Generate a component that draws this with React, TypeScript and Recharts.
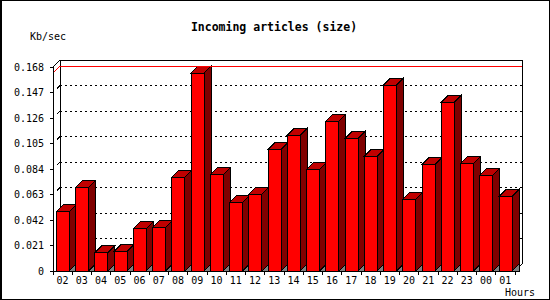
import React from 'react';
import { BarChart, Bar, XAxis, YAxis, CartesianGrid, ReferenceLine } from 'recharts';

// hourly traffic, oldest hour first
const hours = ['02', '03', '04', '05', '06', '07', '08', '09', '10', '11', '12', '13',
  '14', '15', '16', '17', '18', '19', '20', '21', '22', '23', '00', '01'];
const kbPerSec = [0.0489, 0.0688, 0.0150, 0.0159, 0.0349, 0.0357, 0.0771, 0.1630, 0.0795, 0.0564, 0.0630, 0.1002,
  0.1118, 0.0837, 0.1234, 0.1093, 0.0944, 0.1531, 0.0589, 0.0878, 0.1391, 0.0886, 0.0787, 0.0613];
const yTicks = [0, 0.021, 0.042, 0.063, 0.084, 0.105, 0.126, 0.147, 0.168];

const W = 550;
const H = 300;
const LEFT = 53;
const RIGHT = 35;
const TOP = 67;
const BOTTOM = 29;
const D = 7; // 3d depth in px
const BW = (W - LEFT - RIGHT) / hours.length;
const FONT = '"DejaVu Sans Mono", monospace';

const data = hours.map((h, i) => ({ hour: h, value: kbPerSec[i] }));
const maxValue = Math.max(...kbPerSec);

const fmt = (v: number) => (v === 0 ? '0' : v.toFixed(3));

const Bar3D = (props: any) => {
  const { x, y, width, height } = props;
  if (height == null || width == null) return null;
  const r = x + width;
  const b = y + height;
  return (
    <g stroke="#000" strokeWidth={1}>
      <polygon points={`${r},${b} ${r + D},${b - D} ${r + D},${b}`} fill="#808080" />
      <polygon points={`${x},${y} ${x + D},${y - D} ${r + D},${y - D} ${r},${y}`} fill="#c00000" />
      <polygon points={`${r},${y} ${r + D},${y - D} ${r + D},${b - D} ${r},${b}`} fill="#800000" />
      <rect x={x} y={y} width={width} height={height} fill="#ff0000" />
    </g>
  );
};

const HourTick = (props: any) => {
  const { x, y, payload, index } = props;
  return (
    <g>
      <line x1={x - BW / 2} x2={x - BW / 2} y1={y} y2={y + 4} stroke="#000" />
      {index === hours.length - 1 && (
        <line x1={x + BW / 2} x2={x + BW / 2} y1={y} y2={y + 4} stroke="#000" />
      )}
      <text x={x} y={y + 13} textAnchor="middle" fontSize={10} fontFamily={FONT} fill="#000">
        {payload.value}
      </text>
    </g>
  );
};

// grid lines live on the back wall, shifted by the depth
const backLine = (p: any) => {
  const { x1, y1, x2, key } = p;
  if (Math.abs(y1 - TOP) < 1) {
    return (
      <g key={key} stroke="#000">
        <line x1={x1} y1={y1} x2={x1 + D} y2={y1 - D} />
        <line x1={x1 + D} y1={y1 - D} x2={x2 + D} y2={y1 - D} />
      </g>
    );
  }
  if (Math.abs(y1 - (H - BOTTOM)) < 1) {
    return (
      <g key={key} stroke="#000">
        <line x1={x2} y1={y1} x2={x2 + D} y2={y1 - D} />
      </g>
    );
  }
  return (
    <g key={key} stroke="#000">
      <line x1={x1 + 4} y1={y1 - 4} x2={x1 + D} y2={y1 - D} />
      <line x1={x1 + D} y1={y1 - D} x2={x2 + D} y2={y1 - D} strokeDasharray="2 3" />
    </g>
  );
};

const backEdge = (p: any) => {
  const { x1, y1, y2, key } = p;
  return <line key={key} x1={x1 + D} y1={y1 - D} x2={x1 + D} y2={y2 - D} stroke="#000" />;
};

const MaxLine = (p: any) => {
  const { x1, y1, x2 } = p;
  return (
    <polyline
      points={`${x1},${y1} ${x1 + D},${y1 - D} ${x2 + D},${y1 - D}`}
      fill="none"
      stroke="#ff0000"
    />
  );
};

export default function App() {
  return (
    <div
      style={{
        position: 'absolute',
        left: 0,
        top: 0,
        width: W,
        height: H,
        background: '#fff',
        shapeRendering: 'crispEdges',
      } as React.CSSProperties}
    >
      <BarChart
        width={W}
        height={H}
        data={data}
        margin={{ top: TOP, right: RIGHT, left: 0, bottom: 0 }}
        barCategoryGap="17%"
      >
        <CartesianGrid
          horizontal={backLine}
          vertical={backEdge}
          verticalPoints={[LEFT, W - RIGHT]}
        />
        <XAxis
          dataKey="hour"
          interval={0}
          height={BOTTOM}
          tickLine={false}
          tickSize={0}
          tickMargin={0}
          axisLine={{ stroke: '#000' }}
          tick={(p: any) => <HourTick {...p} />}
        />
        <YAxis
          type="number"
          domain={[0, 0.168]}
          ticks={yTicks}
          interval={0}
          width={LEFT}
          tickSize={3}
          tickMargin={6}
          tickFormatter={fmt}
          axisLine={{ stroke: '#000' }}
          tickLine={{ stroke: '#000' }}
          tick={{ fill: '#000', fontSize: 10, fontFamily: FONT }}
        />
        <ReferenceLine y={maxValue} shape={(p: any) => <MaxLine {...p} />} />
        <Bar dataKey="value" shape={(p: any) => <Bar3D {...p} />} isAnimationActive={false} />
      </BarChart>
      <svg
        width={W}
        height={H}
        style={{ position: 'absolute', left: 0, top: 0, pointerEvents: 'none' }}
      >
        <rect x={0.5} y={0.5} width={W - 1} height={H - 1} fill="none" stroke="#000" />
        <line x1={1.5} y1={0} x2={1.5} y2={H} stroke="#000" />
        <text x={274} y={31} textAnchor="middle" fontSize={11.5} fontWeight="bold" fontFamily={FONT} fill="#000">
          Incoming articles (size)
        </text>
        <text x={30} y={40} fontSize={10} fontFamily={FONT} fill="#000">
          Kb/sec
        </text>
        <text x={505} y={296} fontSize={10} fontFamily={FONT} fill="#000">
          Hours
        </text>
      </svg>
    </div>
  );
}
